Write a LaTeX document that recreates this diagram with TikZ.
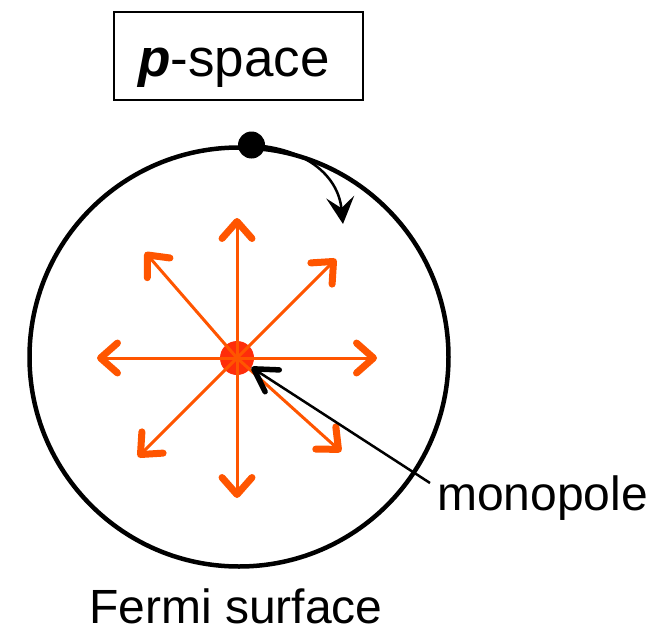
\documentclass[tikz,border=0pt]{standalone}
\usepackage{fontspec}
\setmainfont{Liberation Sans}
\usetikzlibrary{arrows.meta}
\definecolor{raycol}{RGB}{255,85,0}
\definecolor{polecol}{RGB}{255,45,10}
\begin{document}
\begin{tikzpicture}[x=1pt,y=-1pt,
  raystyle/.style={draw=raycol, line width=3pt,
    -{Straight Barb[length=17pt,width=30pt,line width=7pt,round]}},
  bigtext/.style={font=\fontsize{48}{56}\selectfont, inner sep=0pt},
  pointer/.style={draw=black, line width=2.5pt,
    -{Straight Barb[length=22pt,width=26pt,line width=5.5pt,round]}},
  movearrow/.style={draw=black, line width=2.5pt,
    -{Stealth[length=27pt,width=28pt,inset=11pt]}}]
\useasboundingbox (0,0) rectangle (664,637);
% title box
\node[draw, line width=2.5pt, minimum width=249pt, minimum height=88pt, inner sep=0pt] (box) at (238.5,56) {};
\node[font=\fontsize{53}{60}\selectfont, inner sep=0pt, anchor=base] (ptxt) at (234,76) {\textbf{\textit{p}}-space};
% Fermi surface
\node[circle, draw, line width=4.5pt, minimum size=419pt, inner sep=0pt] (fs) at (239,357) {};
% monopole
\node[circle, fill=polecol, minimum size=34pt, inner sep=0pt] (pole) at (237,358) {};
\foreach \a in {0,-45,-90,-131,180,135,90,42}{
  \coordinate (r\a) at ([shift={(\a:140)}]pole.center);
  \draw[raystyle] (pole.center) -- (r\a);
}
% moving point
\node[circle, fill=black, minimum size=27pt, inner sep=0pt] (pt) at (251.5,145) {};
\coordinate (mvend) at (343,224);
\draw[movearrow] (pt.center) .. controls (305,148) and (338,175) .. (mvend);
% labels
\node[bigtext, anchor=base west] (mono) at (437,510) {monopole};
\coordinate (ml) at (430,483);
\draw[pointer] (ml) -- (pole);
\node[bigtext, anchor=base] (fermi) at (236,623) {Fermi surface};
\end{tikzpicture}
\end{document}
